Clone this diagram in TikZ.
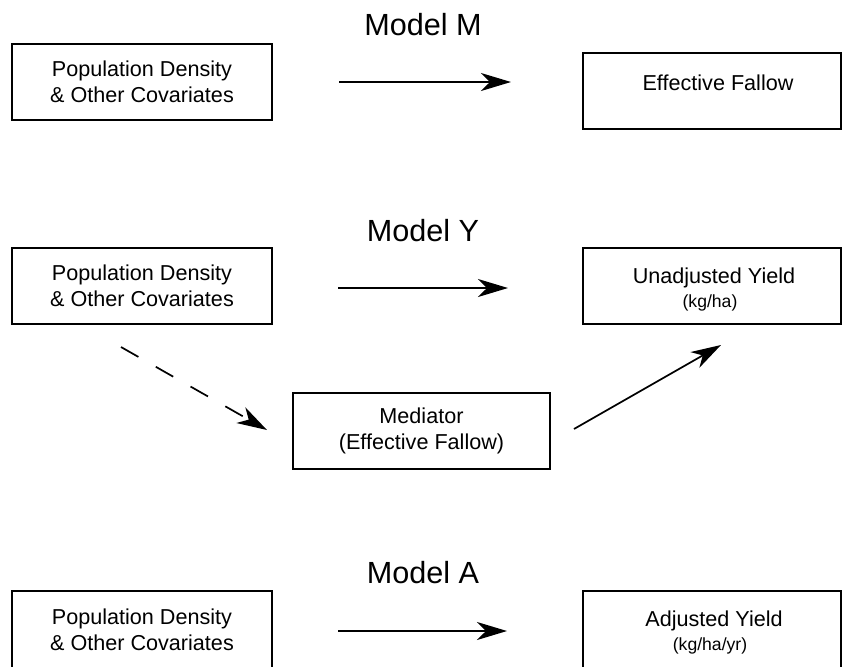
\documentclass[tikz,border=0pt]{standalone}
\usepackage{fontspec}
\setmainfont{Liberation Sans}
\usetikzlibrary{arrows.meta}
\begin{document}
\begin{tikzpicture}[x=0.5pt,y=-0.5pt,
  box/.style={draw, line width=0.6pt, minimum width=130pt, minimum height=38pt,
    inner sep=0pt, outer sep=0pt, align=center,
    font=\fontsize{10.8}{13}\selectfont},
  rbox/.style={box, minimum width=129pt},
  lab/.style={inner sep=0pt, font=\fontsize{10.8}{13}\selectfont},
  slab/.style={inner sep=0pt, font=\fontsize{8.8}{10.5}\selectfont},
  title/.style={inner sep=0pt, font=\fontsize{15.3}{18}\selectfont},
  conn/.style={line width=0.85pt, -{Stealth[length=15pt,width=9pt,inset=4.5pt]}},
  dconn/.style={conn, dash pattern=on 10pt off 10pt}]
\useasboundingbox (0,0) rectangle (842,666);
\clip (0,0) rectangle (842,666);

% Model M
\node[title] (tm) at (423,25) {Model M};
\node[box, anchor=north west] (pm) at (12,44) {Population Density\\\& Other Covariates};
\node[rbox, anchor=north west] (ef) at (583,53) {};
\node[lab] (eft) at (718,83) {Effective Fallow};
\coordinate (m1) at (339,82);
\coordinate (m2) at (511,82);
\draw[conn] (m1) -- (m2);

% Model Y
\node[title] (ty) at (423,231) {Model Y};
\node[box, anchor=north west] (py) at (12,248) {Population Density\\\& Other Covariates};
\node[rbox, anchor=north west] (uy) at (583,248) {};
\node[lab] (uyt) at (714,278) {Unadjusted Yield};
\node[slab] (uyu) at (710,303) {(kg/ha)};
\coordinate (y1) at (338,288);
\coordinate (y2) at (508,288);
\draw[conn] (y1) -- (y2);
\node[box, anchor=north west, minimum width=128.5pt] (med) at (293,393) {Mediator\\(Effective Fallow)};
\coordinate (d1) at (121,347);
\coordinate (d2) at (267,430);
\draw[dconn] (d1) -- (d2);
\coordinate (s1) at (574,429);
\coordinate (s2) at (721,345);
\draw[conn] (s1) -- (s2);

% Model A
\node[title] (ta) at (423,573) {Model A};
\node[box, anchor=north west, minimum height=39pt] (pa) at (12,591) {Population Density\\\& Other Covariates};
\node[rbox, anchor=north west, minimum height=39pt] (ay) at (583,591) {};
\node[lab] (ayt) at (714,621) {Adjusted Yield};
\node[slab] (ayu) at (710,646) {(kg/ha/yr)};
\coordinate (a1) at (338,631);
\coordinate (a2) at (507,631);
\draw[conn] (a1) -- (a2);
\end{tikzpicture}
\end{document}
